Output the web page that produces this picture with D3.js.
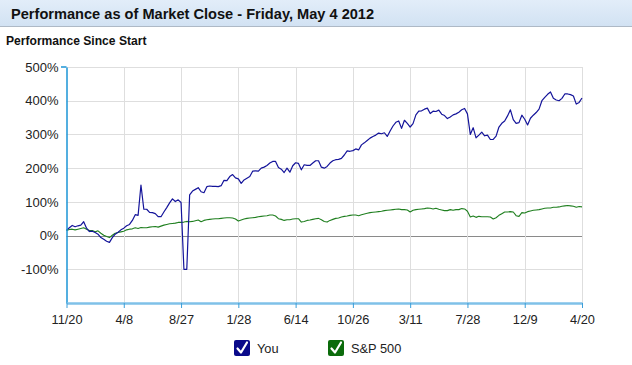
<!DOCTYPE html>
<html>
<head>
<meta charset="utf-8">
<script src="https://cdn.jsdelivr.net/npm/d3@7/dist/d3.min.js"></script>
<style>
  body { margin: 0; background: #fff; font-family: Arial, "Liberation Sans", sans-serif; }
</style>
</head>
<body>
<svg id="chart"></svg>
<script>
// dates shown on the x axis (one every 20 trading samples)
const tickLabels = ['11/20', '4/8', '8/27', '1/28', '6/14', '10/26', '3/11', '7/28', '12/9', '4/20'];
const yTicks = [500, 400, 300, 200, 100, 0, -100];

// performance since start, in percent
const youValues = [
  16, 23, 30, 26, 29, 31, 41, 22, 12, 13, 9, 4, -6, -11, -17, -20, -6, 4, 10, 17,
  22, 29, 33, 45, 62, 60, 150, 78, 78, 69, 68, 65, 56, 56, 70, 83, 97, 109, 101, 106,
  98, -100, -100, 121, 132, 137, 142, 130, 127, 145, 147, 146, 146, 145, 148, 164, 163, 175, 181, 171,
  168, 155, 165, 170, 175, 191, 192, 191, 200, 203, 208, 215, 220, 220, 202, 197, 187, 200, 188, 207,
  216, 214, 195, 210, 208, 208, 215, 222, 222, 203, 200, 205, 215, 222, 225, 226, 229, 239, 251, 250,
  252, 257, 254, 269, 275, 282, 289, 294, 298, 304, 302, 305, 294, 310, 325, 336, 340, 318, 342, 333,
  322, 332, 358, 369, 370, 375, 378, 362, 369, 368, 372, 360, 356, 347, 352, 358, 361, 366, 373, 377,
  361, 300, 320, 290, 298, 307, 296, 298, 285, 285, 295, 322, 333, 340, 355, 373, 344, 333, 335, 357,
  345, 328, 348, 357, 365, 375, 400, 410, 419, 426, 407, 402, 400, 407, 420, 420, 418, 414, 390, 395,
  408
];
const spValues = [
  15, 18, 19, 17, 19, 21, 23, 19, 15, 15, 11, 14, 7, 1, -3, -6, 1, 7, 9, 11,
  13, 17, 19, 20, 23, 21, 24, 23, 23, 25, 26, 27, 25, 28, 31, 33, 35, 36, 37, 39,
  39, 40, 42, 41, 42, 44, 46, 41, 45, 47, 48, 49, 50, 50, 51, 52, 53, 53, 52, 49,
  43, 46, 49, 51, 52, 53, 54, 56, 57, 58, 59, 61, 61, 58, 50, 48, 45, 47, 47, 49,
  50, 50, 40, 42, 45, 46, 48, 50, 51, 47, 42, 40, 45, 48, 51, 52, 55, 57, 58, 60,
  61, 61, 59, 62, 64, 66, 68, 69, 70, 71, 72, 74, 75, 76, 77, 78, 79, 77, 77, 76,
  70, 75, 77, 78, 79, 80, 82, 81, 79, 81, 78, 76, 74, 74, 77, 75, 77, 77, 80, 79,
  72, 55, 58, 54, 57, 56, 56, 56, 55, 49, 53, 60, 65, 70, 70, 71, 70, 59, 57, 68,
  67, 71, 73, 75, 76, 77, 79, 81, 82, 82, 84, 84, 85, 87, 88, 89, 88, 87, 84, 86,
  85
];
const seriesNames = ['You', 'S&P 500'];
const seriesColors = ['#14149a', '#1f7f1f'];
const boxColors = ['#0a0a8a', '#0b6b0b'];

const width = 632, height = 365;
const margin = { left: 66.5, right: 50, top: 67, bottom: 62 };
const svg = d3.select('#chart')
  .attr('width', width)
  .attr('height', height)
  .style('display', 'block');

// header band
const defs = svg.append('defs');
const grad = defs.append('linearGradient')
  .attr('id', 'hdr')
  .attr('x1', 0).attr('y1', 0).attr('x2', 0).attr('y2', 1);
grad.append('stop').attr('offset', '0%').attr('stop-color', '#e2edf9');
grad.append('stop').attr('offset', '100%').attr('stop-color', '#d2e2f3');
svg.append('rect')
  .attr('x', 0).attr('y', 0)
  .attr('width', width).attr('height', 26)
  .attr('fill', 'url(#hdr)');
svg.append('line')
  .attr('x1', 0).attr('x2', width)
  .attr('y1', 26.5).attr('y2', 26.5)
  .attr('stroke', '#aeb9c6');
svg.append('text')
  .attr('x', 11).attr('y', 18.5)
  .style('font-size', '14.6px')
  .style('font-weight', 'bold')
  .style('fill', '#111')
  .text('Performance as of Market Close - Friday, May 4 2012');
svg.append('text')
  .attr('x', 6).attr('y', 44.5)
  .style('font-size', '12.1px')
  .style('font-weight', 'bold')
  .style('fill', '#111')
  .text('Performance Since Start');

const n = youValues.length;
const x = d3.scaleLinear()
  .domain([0, n - 1])
  .range([margin.left, 582]);
const y = d3.scaleLinear()
  .domain([-200, 500])
  .range([303, margin.top]);

const tickIdx = tickLabels.map((d, i) => i * (n - 1) / (tickLabels.length - 1));

// grid
svg.append('g')
  .selectAll('line')
  .data(yTicks)
  .enter()
  .append('line')
  .attr('x1', x(0)).attr('x2', x(n - 1))
  .attr('y1', d => Math.round(y(d)) + 0.5)
  .attr('y2', d => Math.round(y(d)) + 0.5)
  .attr('stroke', d => d === 0 ? '#8a8a8a' : '#dedede')
  .attr('stroke-width', 1);
svg.append('g')
  .selectAll('line')
  .data(tickIdx.slice(1))
  .enter()
  .append('line')
  .attr('x1', d => Math.round(x(d)) + 0.5)
  .attr('x2', d => Math.round(x(d)) + 0.5)
  .attr('y1', y(500)).attr('y2', y(-200))
  .attr('stroke', '#dedede');

// series lines (S&P first so "You" sits on top)
const line = d3.line()
  .x((d, i) => x(i))
  .y(d => y(d));
svg.append('path')
  .datum(spValues)
  .attr('d', line)
  .attr('fill', 'none')
  .attr('stroke', seriesColors[1])
  .attr('stroke-width', 1.1)
  .attr('stroke-linejoin', 'round');
svg.append('path')
  .datum(youValues)
  .attr('d', line)
  .attr('fill', 'none')
  .attr('stroke', seriesColors[0])
  .attr('stroke-width', 1.2)
  .attr('stroke-linejoin', 'round');

// axes
const yAxis = d3.axisLeft(y)
  .tickValues(yTicks)
  .tickSizeInner(0)
  .tickSizeOuter(0)
  .tickPadding(8)
  .tickFormat(d => d + '%');
const gy = svg.append('g')
  .attr('transform', `translate(${margin.left},0)`)
  .call(yAxis);
gy.select('.domain').attr('stroke', '#1b95d6').attr('stroke-width', 1.5);
gy.selectAll('text')
  .style('font-size', '13px')
  .style('font-family', 'Arial, "Liberation Sans", sans-serif')
  .style('fill', '#222');
// small cap at the top of the y axis
gy.append('line')
  .attr('x1', -5.5).attr('x2', 0)
  .attr('y1', y(500)).attr('y2', y(500))
  .attr('stroke', '#1b95d6')
  .attr('stroke-width', 1.5);

const xAxis = d3.axisBottom(x)
  .tickValues(tickIdx)
  .tickSizeInner(5)
  .tickSizeOuter(0)
  .tickPadding(7)
  .tickFormat((d, i) => tickLabels[i]);
const gx = svg.append('g')
  .attr('transform', `translate(0,${303})`)
  .call(xAxis);
gx.select('.domain').attr('stroke', '#7fc1e8').attr('stroke-width', 2.5);
gx.selectAll('.tick line').attr('stroke', '#3a9ed9').attr('stroke-width', 1);
gx.selectAll('text')
  .style('font-size', '12.8px')
  .style('font-family', 'Arial, "Liberation Sans", sans-serif')
  .style('fill', '#222');

// legend
const legendX = [234, 328];
const legend = svg.append('g')
  .selectAll('g')
  .data(seriesNames)
  .enter()
  .append('g')
  .attr('transform', (d, i) => `translate(${legendX[i]},340)`);
legend.append('rect')
  .attr('width', 16).attr('height', 16)
  .attr('rx', 2)
  .attr('fill', (d, i) => boxColors[i]);
legend.append('path')
  .attr('d', 'M3.5,8.5 L7,12.5 L13,2.5')
  .attr('fill', 'none')
  .attr('stroke', '#fff')
  .attr('stroke-width', 2.2)
  .attr('stroke-linecap', 'round')
  .attr('stroke-linejoin', 'round');
legend.append('text')
  .attr('x', 23).attr('y', 12.5)
  .style('font-size', '12.8px')
  .style('fill', '#222')
  .text(d => d);
</script>
</body>
</html>
